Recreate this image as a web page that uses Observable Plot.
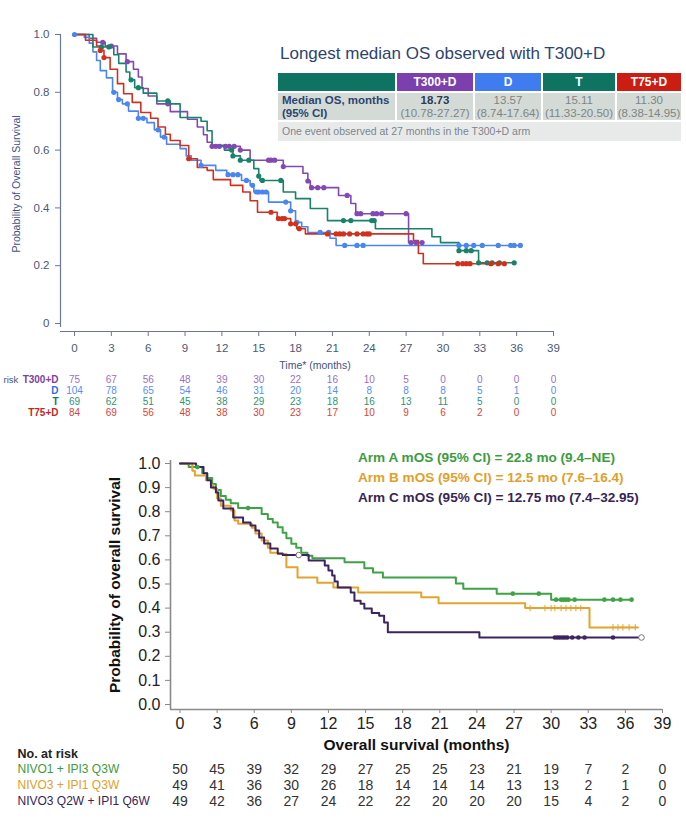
<!DOCTYPE html>
<html><head><meta charset="utf-8">
<script src="https://cdn.jsdelivr.net/npm/d3@7"></script>
<script src="https://cdn.jsdelivr.net/npm/@observablehq/plot@0.6"></script>
<style>
body{margin:0;background:#fff;}
#page{position:relative;width:686px;height:823px;overflow:hidden;font-family:"Liberation Sans",Arial,sans-serif;}
#page svg{position:absolute;left:0;overflow:visible;}
</style></head><body><div id="page"></div>
<script>
// ---------- shared ----------
const riskTimes = [0,3,6,9,12,15,18,21,24,27,30,33,36,39];
const xTicks = [0,3,6,9,12,15,18,21,24,27,30,33,36,39];

// ---------- top chart data ----------
const topArms = ["T300+D","D","T","T75+D"];
const topLineColors = ["#8249b5","#4a86f0","#19826a","#d2301f"];
const topLabelColors = ["#7a3fa8","#2f6fe0","#137a5f","#c0281e"];
const topNumColors = ["#9a6fc4","#5a8ef2","#2d9477","#d8453a"];
const topHeaderColors = ["#7b3fae","#3e7cf0","#0e7461","#cc1d12"];
const topMedians = ["18.73","13.57","15.11","11.30"];
const topCIs = ["(10.78-27.27)","(8.74-17.64)","(11.33-20.50)","(8.38-14.95)"];
const topYTicks = [0,0.2,0.4,0.6,0.8,1.0];

const kmT300D = [[0,1],[1.2,0.987],[1.8,0.973],[2.5,0.96],[3.5,0.933],[4.2,0.906],[4.8,0.88],[5.2,0.853],[5.5,0.813],[6,0.787],[6.7,0.76],[7.8,0.733],[9.2,0.707],[10,0.68],[10.5,0.653],[10.8,0.627],[11.2,0.613],[13.5,0.6],[14.3,0.565],[17,0.543],[18.6,0.52],[19,0.493],[19.2,0.47],[21.5,0.443],[22.5,0.415],[22.9,0.38],[27.2,0.28],[28.3,0.28]];
const kmD = [[0,1],[0.8,0.99],[1.2,0.97],[1.5,0.94],[1.8,0.91],[2.1,0.875],[2.6,0.85],[3.1,0.8],[3.5,0.775],[3.9,0.76],[4.4,0.735],[5.2,0.71],[5.9,0.695],[6.5,0.67],[7.0,0.645],[7.5,0.62],[8.6,0.605],[9.1,0.58],[9.5,0.565],[10.3,0.547],[11.5,0.53],[12.4,0.515],[13.6,0.495],[14.3,0.478],[14.6,0.455],[15.8,0.42],[17.6,0.39],[18.0,0.35],[18.5,0.335],[19.0,0.315],[20.8,0.295],[21.3,0.27],[36.3,0.27]];
const kmT = [[0,1],[1.5,0.957],[3.2,0.93],[3.6,0.9],[4.2,0.87],[4.5,0.843],[4.9,0.816],[5.6,0.797],[6.7,0.77],[7.8,0.76],[8.6,0.713],[10.3,0.7],[10.8,0.667],[11.2,0.617],[12.2,0.6],[12.9,0.58],[13.5,0.565],[14.6,0.536],[15.0,0.51],[15.1,0.495],[17.0,0.455],[18,0.432],[19.2,0.398],[20.6,0.356],[24.5,0.328],[29.1,0.30],[29.8,0.28],[31.3,0.252],[32.9,0.21],[35.8,0.21]];
const kmT75D = [[0,1],[0.9,0.98],[1.8,0.96],[2.1,0.945],[2.4,0.92],[2.9,0.88],[3.5,0.83],[4.0,0.795],[4.7,0.765],[5.4,0.73],[6.2,0.71],[6.8,0.68],[7.4,0.655],[7.8,0.633],[8.6,0.616],[9.3,0.57],[10.0,0.54],[10.8,0.53],[11.3,0.498],[12.7,0.478],[13.7,0.455],[14.3,0.425],[14.9,0.385],[16.5,0.363],[17.6,0.345],[18.1,0.328],[18.8,0.31],[27.6,0.287],[28.0,0.242],[28.4,0.207],[35.0,0.207]];

const cT300D = [2.3,3.0,4.3,7.6,11.2,11.5,11.8,12.3,12.6,13.0,13.5,15.8,16.0,16.3,17.0,19.0,19.3,19.8,20.3,22.2,23.0,23.3,24.3,24.6,25.0,27.0,27.4,27.8,28.3];
const cD = [0,3.2,3.6,4.3,5.2,5.6,6.8,7.3,10.3,12.5,12.9,13.3,14.0,14.5,14.8,15.0,15.3,15.6,17.2,17.6,18.1,20.0,20.7,22.0,23.0,23.5,31.3,31.9,32.5,33.2,34.5,35.5,35.8,36.3];
const cT = [2.2,2.8,4.6,5.2,7.6,12.8,12.9,13.5,14.2,15.0,15.3,16.8,21.9,22.5,24.2,24.4,31.3,31.9,32.3,32.9,33.6,34.0,34.6,35.8];
const cT75D = [2.1,2.4,9.3,16.0,16.6,16.9,17.1,17.6,18.0,18.3,20.6,21.3,21.6,21.9,22.4,23.0,23.5,23.8,24.0,31.2,31.6,31.9,32.2,33.9,34.5,35.0];

const riskT300D = [75,67,56,48,39,30,22,16,10,5,0,0,0,0];
const riskD = [104,78,65,54,46,31,20,14,8,8,8,5,1,0];
const riskT = [69,62,51,45,38,29,23,18,16,13,11,5,0,0];
const riskT75D = [84,69,56,48,38,30,23,17,10,9,6,2,0,0];

// ---------- bottom chart data ----------
const botArms = ["Arm A","Arm B","Arm C"];
const botRiskLabels = ["NIVO1 + IPI3 Q3W","NIVO3 + IPI1 Q3W","NIVO3 Q2W + IPI1 Q6W"];
const botLineColors = ["#3ea344","#e3a32c","#3c2460"];
const botTextColors = ["#3c9c40","#e2a02a","#372655"];
const botLegend = ["Arm A mOS (95% CI) = 22.8 mo (9.4\u2013NE)","Arm B mOS (95% CI) = 12.5 mo (7.6\u201316.4)","Arm C mOS (95% CI) = 12.75 mo (7.4\u201332.95)"];
const botYTicks = [0,0.1,0.2,0.3,0.4,0.5,0.6,0.7,0.8,0.9,1.0];

const kmA = [[0,1],[0.7,0.985],[1.8,0.96],[2.2,0.94],[2.6,0.915],[2.9,0.89],[3.3,0.865],[3.7,0.85],[4.1,0.835],[4.7,0.815],[6.6,0.79],[7.1,0.77],[7.5,0.755],[7.9,0.735],[8.3,0.713],[8.6,0.69],[9.0,0.667],[9.4,0.65],[9.8,0.63],[10.3,0.617],[10.7,0.607],[13.3,0.59],[14.9,0.565],[15.6,0.548],[16.4,0.527],[22.3,0.502],[22.9,0.48],[25.6,0.46],[30.0,0.435],[36.5,0.435]];
const kmB = [[0,1],[1.0,0.97],[1.2,0.95],[2.1,0.93],[2.5,0.91],[2.7,0.895],[3.0,0.855],[3.3,0.825],[4.1,0.805],[4.4,0.763],[4.7,0.75],[5.8,0.733],[6.1,0.71],[6.6,0.68],[7.1,0.65],[7.3,0.63],[7.9,0.625],[8.6,0.57],[9.5,0.527],[11.1,0.505],[12.4,0.485],[14.4,0.465],[19.5,0.445],[20.9,0.42],[27.9,0.40],[33.1,0.32],[37.0,0.32]];
const kmC = [[0,1],[1.3,0.985],[1.9,0.96],[2.2,0.93],[2.5,0.9],[2.9,0.88],[3.1,0.846],[3.5,0.813],[4.3,0.776],[5.1,0.755],[5.7,0.743],[6.1,0.722],[6.4,0.693],[6.8,0.668],[7.3,0.647],[7.9,0.627],[8.3,0.62],[10.4,0.598],[11.7,0.577],[12.0,0.556],[12.3,0.535],[12.5,0.51],[12.75,0.485],[13.8,0.465],[14.1,0.43],[14.6,0.418],[14.9,0.398],[15.5,0.38],[16.1,0.368],[16.5,0.34],[16.8,0.3],[24.2,0.278],[37.3,0.278]];

const cA = [1.4,5.5,26.9,29.0,30.4,30.8,31.0,31.2,31.4,31.9,34.3,35.0,35.6,36.5];
const cB = [28.3,29.5,30.0,30.3,30.8,31.2,31.6,32.0,32.4,35.0,35.4,35.8,36.3,36.8];
const cC = [30.3,30.5,30.7,30.9,31.1,31.3,31.7,32.2,32.7,35.0];
const cCOpen = [9.6,37.3];

const riskA = [50,45,39,32,29,27,25,25,23,21,19,7,2,0];
const riskB = [49,41,36,30,26,18,14,14,14,13,13,2,1,0];
const riskC = [49,42,36,27,24,22,22,20,20,20,15,4,2,0];

// ---------- helpers ----------
function stepAt(curve, t) {
  let s = curve[0][1];
  for (const [tt, ss] of curve) { if (tt <= t) s = ss; else break; }
  return s;
}
const page = document.getElementById("page");
function place(node, top) { node.style.top = top + "px"; page.appendChild(node); }

// ---------- top chart ----------
const topCurves = [kmT300D, kmD, kmT, kmT75D];
const topCens = [cT300D, cD, cT, cT75D];
const topRisks = [riskT300D, riskD, riskT, riskT75D];
const topLineRows = topArms.flatMap((arm, i) => topCurves[i].map(([t, s]) => ({arm, t, s})));
const topCensRows = topArms.flatMap((arm, i) => topCens[i].map(t => ({arm, t, s: stepAt(topCurves[i], t)})));

const topFont = "'Liberation Sans', Arial, sans-serif";
const topChart = Plot.plot({
  width: 686, height: 372,
  marginTop: 30, marginBottom: 41, marginLeft: 60, marginRight: 133,
  style: {fontFamily: topFont, fontSize: "11.5px", color: "#4b5878", background: "transparent"},
  x: {domain: [0, 39], insetLeft: 14},
  y: {domain: [0, 1], insetTop: 4, insetBottom: 8},
  color: {domain: topArms, range: topLineColors},
  marks: [
    Plot.ruleY([0], {dy: 8, stroke: "#6a7895", strokeWidth: 1.2}),
    Plot.ruleX([0], {dx: -14, insetTop: 4, insetBottom: 4, stroke: "#6a7895", strokeWidth: 1.2}),
    Plot.axisX({ticks: xTicks, tickSize: 5, tickPadding: 7, label: null, stroke: "#6a7895", fill: "#4b5878"}),
    Plot.axisY({ticks: topYTicks, tickSize: 5, tickPadding: 6, label: null, stroke: "#6a7895", fill: "#4b5878",
      tickFormat: d => d === 0 ? "0" : d.toFixed(1)}),
    Plot.line(topLineRows, {x: "t", y: "s", z: "arm", stroke: "arm", curve: "step-after", strokeWidth: 1.6}),
    Plot.dot(topCensRows, {x: "t", y: "s", fill: "arm", r: 2.6}),
    Plot.text(["Probability of Overall Survival"], {text: d => d, frameAnchor: "left", textAnchor: "middle", lineAnchor: "middle", rotate: -90, dx: -44, dy: 3, fontSize: 10.5, fill: "#3f5383"}),
    Plot.text(["Time* (months)"], {text: d => d, frameAnchor: "bottom", lineAnchor: "middle", dy: 34, dx: 8, fontSize: 10.5, fill: "#3f5383"})
  ]
});
place(topChart, 0);

// top risk table
const topRiskRows = topArms.flatMap((arm, i) => riskTimes.map((t, j) => ({arm, t, n: topRisks[i][j], c: topNumColors[i]})));
const topRisk = Plot.plot({
  width: 686, height: 50,
  marginTop: 8.5, marginBottom: 7.5, marginLeft: 60, marginRight: 133,
  style: {fontFamily: topFont, fontSize: "10px", background: "transparent"},
  x: {domain: [0, 39], insetLeft: 14, axis: null},
  y: {type: "point", domain: topArms, axis: null, padding: 0},
  marks: [
    Plot.text(topRiskRows, {x: "t", y: "arm", text: d => String(d.n), fill: d => d.c}),
    Plot.text(topArms, {y: d => d, text: d => d, frameAnchor: "left", dx: -2, textAnchor: "end", fontWeight: "bold",
      fill: d => topLabelColors[topArms.indexOf(d)]}),
    Plot.text(["risk"], {y: () => topArms[0], text: d => d, frameAnchor: "left", dx: -57, textAnchor: "start", fontSize: 9.5, fill: "#3f5383"})
  ]
});
place(topRisk, 370);

// top inset title + table
const title = document.createElement("div");
title.textContent = "Longest median OS observed with T300+D";
title.style.cssText = "position:absolute;left:280px;top:45px;font-size:17px;line-height:17px;color:#2d4470;white-space:nowrap;font-family:" + topFont;
page.appendChild(title);

const tbl = document.createElement("div");
tbl.style.cssText = "position:absolute;left:278px;top:73px;display:grid;grid-template-columns:117px 76px 66px 72px 64px;column-gap:2px;row-gap:2px;font-family:" + topFont;
function cell(html, css) { const d = document.createElement("div"); d.innerHTML = html; d.style.cssText = css; tbl.appendChild(d); return d; }
cell("", "height:18px;background:#0e7461;");
topArms.forEach((a, i) => cell(a, "height:18px;line-height:18px;background:" + topHeaderColors[i] + ";color:#fff;font-weight:bold;font-size:12px;text-align:center;"));
cell("Median OS, months<br>(95% CI)", "height:27px;background:#d4dbd7;color:#2d4470;font-weight:bold;font-size:11.5px;line-height:13px;padding:1px 0 0 4px;box-sizing:border-box;white-space:nowrap;");
topArms.forEach((a, i) => cell(
  "<span style='" + (i === 0 ? "font-weight:bold;color:#2d3a55;" : "") + "'>" + topMedians[i] + "</span><br>" + topCIs[i],
  "height:27px;background:#d4dbd7;color:#808486;font-size:11.5px;line-height:13px;text-align:center;padding-top:1px;box-sizing:border-box;white-space:nowrap;"));
cell("One event observed at 27 months in the T300+D arm", "grid-column:1 / -1;height:19px;line-height:19px;background:#e8eaea;color:#7d8590;font-size:10.5px;padding-left:4px;");
page.appendChild(tbl);

// ---------- bottom chart ----------
const botCurves = [kmA, kmB, kmC];
const botCens = [cA, cB, cC];
const botRisks = [riskA, riskB, riskC];
const botLineRows = botArms.flatMap((arm, i) => botCurves[i].map(([t, s]) => ({arm, t, s})));
const botDotRows = [0, 2].flatMap(i => botCens[i].map(t => ({arm: botArms[i], t, s: stepAt(botCurves[i], t)})));
const botPlusRows = botCens[1].map(t => ({arm: botArms[1], t, s: stepAt(botCurves[1], t)}));
const botOpenRows = cCOpen.map(t => ({arm: botArms[2], t, s: stepAt(kmC, t)}));

const botFont = "'Liberation Sans', Arial, sans-serif";
const botChart = Plot.plot({
  width: 686, height: 330,
  marginTop: 30, marginBottom: 51, marginLeft: 170, marginRight: 24,
  style: {fontFamily: botFont, fontSize: "16px", color: "#222", background: "transparent"},
  x: {domain: [0, 39], insetLeft: 9.5},
  y: {domain: [0, 1], insetTop: 3, insetBottom: 5},
  color: {domain: botArms, range: botLineColors},
  marks: [
    Plot.ruleY([0], {dy: 5, stroke: "#8a8a8a", strokeWidth: 1.6}),
    Plot.ruleX([0], {dx: -9.5, stroke: "#8a8a8a", strokeWidth: 1.6}),
    Plot.axisX({ticks: xTicks, tickSize: 4, tickPadding: 4, label: null, stroke: "#8a8a8a", fill: "#222"}),
    Plot.axisY({ticks: botYTicks, tickSize: 5, tickPadding: 5, label: null, stroke: "#8a8a8a", fill: "#222", tickFormat: d3.format(".1f")}),
    Plot.line(botLineRows, {x: "t", y: "s", z: "arm", stroke: "arm", curve: "step-after", strokeWidth: 2}),
    Plot.dot(botDotRows, {x: "t", y: "s", fill: "arm", r: 2.3}),
    Plot.dot(botPlusRows, {x: "t", y: "s", stroke: "arm", symbol: "plus", r: 2.2, strokeWidth: 1}),
    Plot.dot(botOpenRows, {x: "t", y: "s", stroke: "#777", fill: "#fff", r: 2.8, strokeWidth: 1}),
    Plot.text(["Probability of overall survival"], {text: d => d, frameAnchor: "left", textAnchor: "middle", lineAnchor: "middle", rotate: -90, dx: -55, fontSize: 15.5, fontWeight: "bold", fill: "#111"}),
    Plot.text(["Overall survival (months)"], {text: d => d, frameAnchor: "bottom", lineAnchor: "middle", dy: 36, fontSize: 15.5, fontWeight: "bold", fill: "#111"})
  ]
});
place(botChart, 430);

// bottom legend
botLegend.forEach((txt, i) => {
  const d = document.createElement("div");
  d.textContent = txt;
  d.style.cssText = "position:absolute;left:358px;top:" + (447.6 + 20 * i) + "px;font-size:13.6px;line-height:20px;font-weight:bold;white-space:nowrap;color:" + botTextColors[i] + ";font-family:" + botFont;
  page.appendChild(d);
});

// bottom risk table
const botRowKeys = ["hdr", ...botArms];
const botRiskRows = botArms.flatMap((arm, i) => riskTimes.map((t, j) => ({arm, t, n: botRisks[i][j]})));
const botRisk = Plot.plot({
  width: 686, height: 74,
  marginTop: 12, marginBottom: 12.5, marginLeft: 170, marginRight: 24,
  style: {fontFamily: botFont, fontSize: "14px", background: "transparent"},
  x: {domain: [0, 39], insetLeft: 9.5, axis: null},
  y: {type: "point", domain: botRowKeys, axis: null, padding: 0},
  marks: [
    Plot.text(botRiskRows, {x: "t", y: "arm", text: d => String(d.n), fill: "#333"}),
    Plot.text(botArms, {y: d => d, text: d => botRiskLabels[botArms.indexOf(d)], frameAnchor: "left", dx: -153, textAnchor: "start",
      fontSize: 12, fill: d => botTextColors[botArms.indexOf(d)]}),
    Plot.text(["No. at risk"], {y: () => "hdr", text: d => d, frameAnchor: "left", dx: -153, textAnchor: "start", fontSize: 12.5, fontWeight: "bold", fill: "#222"})
  ]
});
place(botRisk, 740);
</script></body></html>
